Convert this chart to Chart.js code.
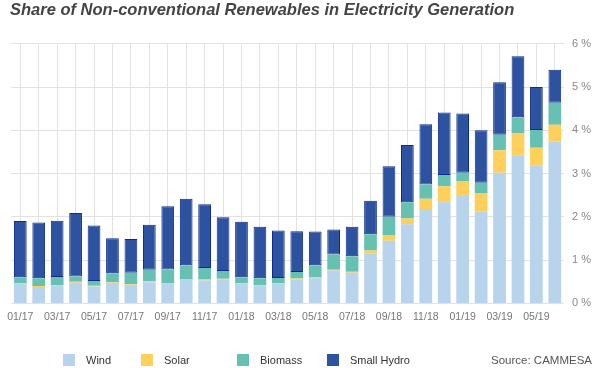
<!DOCTYPE html>
<html>
<head>
<meta charset="utf-8">
<script src="https://cdn.jsdelivr.net/npm/chart.js@4/dist/chart.umd.min.js"></script>
<style>
  html, body { margin: 0; padding: 0; background: #fff; }
  #wrap { position: relative; width: 600px; height: 368px; font-family: "Liberation Sans", Arial, sans-serif; }
  #chart { position: absolute; left: 0; top: 0; }
  .leg { position: absolute; top: 354px; height: 13px; font-size: 11px; color: #333; line-height: 13px; white-space: nowrap; }
  .leg i { display: inline-block; width: 12px; height: 12px; vertical-align: top; margin-right: 11px; }
  #source { position: absolute; top: 354px; left: 491px; font-size: 11.5px; color: #555; line-height: 13px; }
</style>
</head>
<body>
<div id="wrap">
  <canvas id="chart" width="600" height="368"></canvas>
  <div id="legend"></div>
  <div id="source">Source: CAMMESA</div>
</div>
<script>
// --- data (share of generation, %) ---
const months = ['01/17','02/17','03/17','04/17','05/17','06/17','07/17','08/17','09/17','10/17','11/17','12/17',
                '01/18','02/18','03/18','04/18','05/18','06/18','07/18','08/18','09/18','10/18','11/18','12/18',
                '01/19','02/19','03/19','04/19','05/19','06/19'];
const wind    = [0.45,0.38,0.40,0.48,0.39,0.48,0.43,0.49,0.45,0.54,0.53,0.56,0.45,0.40,0.45,0.56,0.58,0.76,0.71,1.16,1.45,1.83,2.18,2.34,2.48,2.13,3.02,3.41,3.19,3.74];
const solar   = [0.015,0.02,0.02,0.02,0.02,0.015,0.02,0.02,0.015,0.01,0.02,0.01,0.015,0.02,0.015,0.015,0.02,0.02,0.02,0.06,0.12,0.13,0.24,0.37,0.34,0.41,0.52,0.53,0.41,0.39];
const biomass = [0.14,0.18,0.19,0.12,0.11,0.20,0.26,0.27,0.32,0.33,0.27,0.18,0.14,0.16,0.12,0.15,0.28,0.35,0.36,0.38,0.43,0.38,0.33,0.26,0.20,0.25,0.36,0.36,0.41,0.51];
const hydro   = [1.30,1.29,1.30,1.47,1.28,0.81,0.78,1.04,1.46,1.54,1.47,1.24,1.28,1.19,1.10,0.94,0.78,0.58,0.68,0.77,1.17,1.32,1.39,1.44,1.37,1.21,1.21,1.41,0.99,0.76];
const yTicks  = [0, 1, 2, 3, 4, 5, 6];

const series = [
    { label: 'Wind',        data: wind,    color: '#b8d3ec', border: '#b8d3ec', bw: 0 },
    { label: 'Solar',       data: solar,   color: '#fdcf5b', border: '#fdcf5b', bw: 0 },
    { label: 'Biomass',     data: biomass, color: '#66c1b3', border: '#66c1b3', bw: 0 },
    { label: 'Small Hydro', data: hydro,   color: '#2c52a0', border: '#0d2a8c', bw: 1 }
];

// legend (html, positioned like the original)
const legendLeft = [63, 141, 237, 327];
document.getElementById('legend').innerHTML = series.map((s, i) =>
    `<div class="leg" style="left:${legendLeft[i]}px"><i style="background:${s.color}"></i>${s.label}</div>`
).join('');

new Chart(document.getElementById('chart'), {
    type: 'bar',
    data: {
        labels: months,
        datasets: series.map(s => ({
            label: s.label,
            data: s.data,
            backgroundColor: s.color,
            borderColor: s.border,
            borderWidth: s.bw,
            borderSkipped: false,
            categoryPercentage: 1,
            barPercentage: 0.69
        }))
    },
    options: {
        responsive: false,
        animation: false,
        layout: { padding: { left: 10, right: 1, top: 0, bottom: 38 } },
        plugins: {
            legend: { display: false },
            tooltip: { enabled: false },
            title: {
                display: true,
                text: 'Share of Non-conventional Renewables in Electricity Generation',
                align: 'start',
                color: '#444',
                font: { family: '"Liberation Sans", Arial, sans-serif', size: 16.5, weight: 'bold', style: 'italic' },
                padding: { top: 1, bottom: 23 }
            }
        },
        scales: {
            x: {
                stacked: true,
                grid: { color: '#e2e2e2', offset: false, drawTicks: false },
                border: { display: false },
                ticks: {
                    autoSkip: false,
                    maxRotation: 0,
                    padding: 7,
                    color: '#777',
                    font: { family: '"Liberation Sans", Arial, sans-serif', size: 10.5 },
                    callback: function (v, i) { return i % 2 === 0 ? months[i] : ''; }
                }
            },
            y: {
                stacked: true,
                position: 'right',
                min: yTicks[0],
                max: yTicks[yTicks.length - 1],
                grid: { color: '#e2e2e2', drawTicks: false },
                border: { display: false },
                ticks: {
                    stepSize: 1,
                    padding: 8,
                    color: '#888',
                    font: { family: '"Liberation Sans", Arial, sans-serif', size: 11 },
                    callback: v => v + ' %'
                }
            }
        }
    }
});
</script>
</body>
</html>
